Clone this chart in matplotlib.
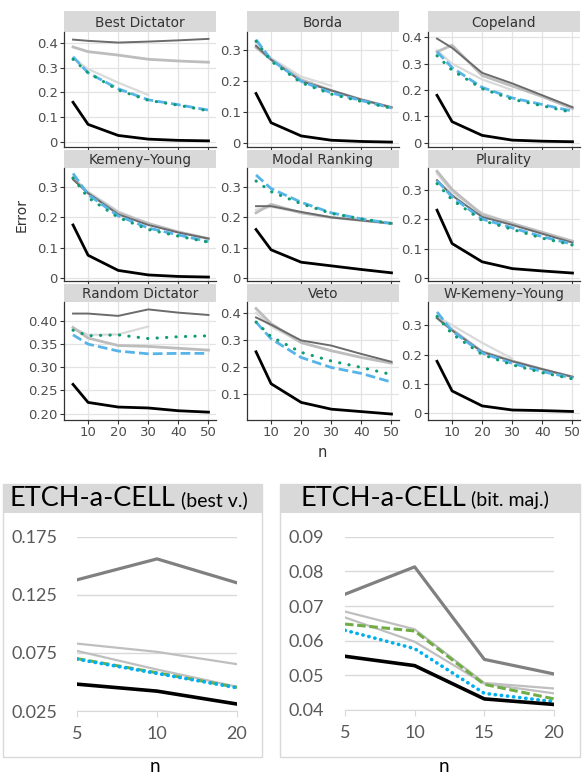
import numpy as np
import matplotlib.pyplot as plt
from matplotlib.patches import Rectangle
from matplotlib.ticker import FuncFormatter

W, H = 584, 777

# ---- top grid: error vs n for nine rules ----
n_vals = [5, 10, 20, 30, 40, 50]
n_short = [5, 10, 20, 30]

rule_names = ['Best Dictator', 'Borda', 'Copeland',
              'Kemeny\u2013Young', 'Modal Ranking', 'Plurality',
              'Random Dictator', 'Veto', 'W-Kemeny\u2013Young']

err_dark = [
    [0.415, 0.410, 0.403, 0.407, 0.412, 0.418],
    [0.315, 0.270, 0.200, 0.170, 0.140, 0.115],
    [0.395, 0.360, 0.265, 0.225, 0.180, 0.135],
    [0.325, 0.280, 0.210, 0.175, 0.150, 0.130],
    [0.237, 0.237, 0.218, 0.200, 0.190, 0.180],
    [0.332, 0.280, 0.207, 0.180, 0.150, 0.120],
    [0.416, 0.416, 0.411, 0.425, 0.418, 0.413],
    [0.383, 0.356, 0.298, 0.279, 0.248, 0.219],
    [0.324, 0.282, 0.209, 0.177, 0.150, 0.124],
]
err_light = [
    [0.385, 0.366, 0.352, 0.335, 0.328, 0.323],
    [0.310, 0.270, 0.205, 0.170, 0.140, 0.115],
    [0.345, 0.370, 0.255, 0.215, 0.175, 0.130],
    [0.330, 0.280, 0.215, 0.180, 0.152, 0.130],
    [0.215, 0.243, 0.215, 0.200, 0.190, 0.180],
    [0.362, 0.300, 0.215, 0.185, 0.155, 0.125],
    [0.386, 0.363, 0.347, 0.345, 0.341, 0.337],
    [0.416, 0.360, 0.290, 0.260, 0.235, 0.214],
    [0.325, 0.285, 0.210, 0.178, 0.150, 0.124],
]
err_lighter = [
    [0.340, 0.295, 0.240, 0.190],
    [0.320, 0.275, 0.215, 0.185],
    [0.350, 0.300, 0.240, 0.200],
    [0.330, 0.285, 0.220, 0.180],
    [0.225, 0.235, 0.215, 0.200],
    [0.355, 0.290, 0.220, 0.185],
    [0.385, 0.370, 0.371, 0.388],
    [0.400, 0.350, 0.290, 0.260],
    [0.330, 0.300, 0.240, 0.186],
]
err_blue = [
    [0.345, 0.280, 0.215, 0.170, 0.150, 0.128],
    [0.335, 0.270, 0.200, 0.162, 0.137, 0.113],
    [0.345, 0.285, 0.210, 0.170, 0.145, 0.120],
    [0.345, 0.275, 0.205, 0.165, 0.142, 0.120],
    [0.340, 0.295, 0.250, 0.215, 0.195, 0.180],
    [0.330, 0.275, 0.200, 0.170, 0.140, 0.115],
    [0.370, 0.350, 0.335, 0.329, 0.330, 0.330],
    [0.366, 0.304, 0.235, 0.198, 0.176, 0.144],
    [0.345, 0.280, 0.205, 0.170, 0.142, 0.120],
]
err_green = [
    [0.335, 0.280, 0.210, 0.168, 0.148, 0.125],
    [0.330, 0.265, 0.195, 0.158, 0.134, 0.112],
    [0.330, 0.275, 0.205, 0.165, 0.140, 0.115],
    [0.330, 0.265, 0.200, 0.160, 0.138, 0.118],
    [0.320, 0.285, 0.245, 0.213, 0.195, 0.180],
    [0.320, 0.265, 0.195, 0.165, 0.135, 0.112],
    [0.380, 0.368, 0.370, 0.362, 0.366, 0.368],
    [0.366, 0.312, 0.254, 0.222, 0.198, 0.172],
    [0.330, 0.270, 0.200, 0.165, 0.138, 0.117],
]
err_black = [
    [0.160, 0.070, 0.025, 0.010, 0.005, 0.003],
    [0.160, 0.065, 0.022, 0.008, 0.004, 0.002],
    [0.180, 0.080, 0.028, 0.010, 0.006, 0.004],
    [0.175, 0.075, 0.025, 0.010, 0.005, 0.003],
    [0.160, 0.093, 0.052, 0.040, 0.028, 0.017],
    [0.230, 0.117, 0.055, 0.032, 0.024, 0.017],
    [0.263, 0.224, 0.214, 0.212, 0.206, 0.203],
    [0.256, 0.138, 0.069, 0.044, 0.035, 0.026],
    [0.177, 0.076, 0.025, 0.011, 0.009, 0.006],
]

y_lims = [(-0.022, 0.446), (-0.014, 0.36), (-0.016, 0.42),
          (-0.01, 0.363), (-0.01, 0.363), (-0.01, 0.373),
          (0.186, 0.441), (0.004, 0.44), (-0.023, 0.379)]
y_ticks = [[0, 0.1, 0.2, 0.3, 0.4], [0, 0.1, 0.2, 0.3], [0, 0.1, 0.2, 0.3, 0.4],
           [0, 0.1, 0.2, 0.3], [0, 0.1, 0.2, 0.3], [0, 0.1, 0.2, 0.3],
           [0.20, 0.25, 0.30, 0.35, 0.40], [0.1, 0.2, 0.3, 0.4], [0, 0.1, 0.2, 0.3]]

# ---- bottom: ETCH-a-CELL ----
best_n = ['5', '10', '20']
best_dark = [0.1379, 0.1559, 0.1353]
best_light1 = [0.0830, 0.0759, 0.0653]
best_light2 = [0.0767, 0.0607, 0.0459]
best_green = [0.0701, 0.0579, 0.0453]
best_blue = [0.0696, 0.0573, 0.0450]
best_black = [0.0481, 0.0421, 0.0310]
best_yticks = [0.025, 0.075, 0.125, 0.175]

bit_n = ['5', '10', '15', '20']
bit_dark = [0.0734, 0.0813, 0.0546, 0.0504]
bit_light1 = [0.0684, 0.0633, 0.0478, 0.0462]
bit_light2 = [0.0667, 0.0597, 0.0476, 0.0448]
bit_green = [0.0648, 0.0628, 0.0474, 0.0432]
bit_blue = [0.0630, 0.0577, 0.0448, 0.0424]
bit_black = [0.0555, 0.0528, 0.0432, 0.0416]
bit_yticks = [0.04, 0.05, 0.06, 0.07, 0.08, 0.09]


def fbox(l, t, r, b):
    return [l / W, 1 - b / H, (r - l) / W, (b - t) / H]


fig = plt.figure(figsize=(W / 100, H / 100), dpi=100)

col_left = [64, 247, 428]
col_w = 152
rows = [(11, 32, 147), (150, 168, 281), (284, 302, 420)]

for i, name in enumerate(rule_names):
    r, c = divmod(i, 3)
    ht, pt, pb = rows[r]
    l = col_left[c]
    rr = l + col_w
    hax = fig.add_axes(fbox(l, ht, rr, pt))
    hax.set_facecolor('#d9d9d9')
    hax.set_xticks([])
    hax.set_yticks([])
    for s in hax.spines.values():
        s.set_visible(False)
    hax.text(0.5, 0.45, name, ha='center', va='center', fontsize=9.8, color='#333333')

    ax = fig.add_axes(fbox(l, pt, rr, pb))
    ax.plot(n_short, err_lighter[i], color='#dadada', lw=1.6)
    ax.plot(n_vals, err_light[i], color='#bdbdbd', lw=2.0)
    ax.plot(n_vals, err_dark[i], color='#6b6b6b', lw=1.4)
    ax.plot(n_vals, err_blue[i], color='#56b4e9', lw=2.0, dashes=(3.5, 1.5))
    ax.plot(n_vals, err_green[i], color='#0f9b73', lw=2.2,
            linestyle=(0, (0.1, 3)), dash_capstyle='round')
    ax.plot(n_vals, err_black[i], color='black', lw=2.0)

    ax.set_xlim(2, 52.5)
    ax.set_ylim(*y_lims[i])
    ax.set_xticks([10, 20, 30, 40, 50])
    ax.set_yticks(y_ticks[i])
    if name == 'Random Dictator':
        ax.yaxis.set_major_formatter(FuncFormatter(lambda v, _: f'{v:.2f}'))
    else:
        ax.yaxis.set_major_formatter(FuncFormatter(lambda v, _: '0' if abs(v) < 1e-9 else f'{v:g}'))
    if r < 2:
        ax.set_xticklabels([])
    ax.grid(True, color='#e3e3e3', lw=0.9)
    ax.set_axisbelow(True)
    for s in ['top', 'right']:
        ax.spines[s].set_visible(False)
    for s in ['left', 'bottom']:
        ax.spines[s].set_color('#333333')
        ax.spines[s].set_linewidth(0.9)
    ax.tick_params(direction='out', length=3, color='#333333', labelsize=9.5,
                   labelcolor='#4d4d4d', pad=1.5)

fig.text(22 / W, 1 - 215 / H, 'Error', rotation=90, ha='center', va='center',
         fontsize=10, color='#333333')
fig.text(322 / W, 1 - 453 / H, 'n', ha='center', va='center', fontsize=10.5, color='#333333')


def etch_panel(box, plot, main, sub, title_x, n_x, cats, series, ylim, yticks, fmt, ypad):
    bl, bt, br, bb = box
    fig.add_artist(Rectangle((bl / W, 1 - bb / H), (br - bl) / W, (bb - bt) / H,
                             transform=fig.transFigure, facecolor='white',
                             edgecolor='#d9d9d9', lw=1, zorder=-2))
    fig.add_artist(Rectangle((bl / W, 1 - 513 / H), (br - bl) / W, (513 - bt) / H,
                             transform=fig.transFigure, facecolor='#d9d9d9',
                             edgecolor='none', zorder=-1))
    t1 = fig.text(title_x / W, 1 - 506 / H, main, family='Lato', fontsize=19.5,
                  va='baseline', ha='left', color='black')
    fig.canvas.draw()
    ext = t1.get_window_extent(fig.canvas.get_renderer())
    fig.text((ext.x1 + 5) / W, 1 - 506 / H, sub, family='Lato', fontsize=14,
             va='baseline', ha='left', color='black')

    ax = fig.add_axes(fbox(*plot))
    ax.set_facecolor('none')
    x = np.arange(len(cats))
    dark, light1, light2, green, blue, black = series
    ax.plot(x, light1, color='#bfbfbf', lw=1.6)
    ax.plot(x, light2, color='#bfbfbf', lw=1.6)
    ax.plot(x, dark, color='#808080', lw=2.3)
    ax.plot(x, green, color='#70ad47', lw=2.2, dashes=(2.8, 1.2))
    ax.plot(x, blue, color='#00b0f0', lw=2.6, linestyle=(0, (0.1, 1.6)),
            dash_capstyle='round')
    ax.plot(x, black, color='black', lw=2.6)
    ax.set_xlim(0, len(cats) - 1)
    ax.set_ylim(*ylim)
    ax.set_xticks(x)
    ax.set_xticklabels(cats)
    ax.set_yticks(yticks)
    ax.set_yticklabels([fmt % v for v in yticks])
    ax.yaxis.grid(True, color='#d9d9d9', lw=1)
    ax.set_axisbelow(True)
    for s in ['top', 'right', 'left']:
        ax.spines[s].set_visible(False)
    ax.spines['bottom'].set_color('#d9d9d9')
    ax.tick_params(axis='x', length=4, color='#d9d9d9', pad=7, labelsize=13,
                   labelcolor='#595959')
    ax.tick_params(axis='y', length=0, pad=ypad, labelsize=13, labelcolor='#595959')
    for lab in ax.get_xticklabels() + ax.get_yticklabels():
        lab.set_family('Lato')
    fig.text(n_x / W, 1 - 766 / H, 'n', family='Lato', fontsize=13.5, ha='center',
             va='center', color='black')


etch_panel((3, 484, 262, 757), (77, 536.7, 237, 711), 'ETCH-a-CELL', '(best v.)', 10, 155,
           best_n, [best_dark, best_light1, best_light2, best_green, best_blue, best_black],
           (0.025, 0.175), best_yticks, '%.3f', 14)
etch_panel((280, 484, 580, 757), (345, 536.7, 554, 710), 'ETCH-a-CELL', '(bit. maj.)', 300, 444,
           bit_n, [bit_dark, bit_light1, bit_light2, bit_green, bit_blue, bit_black],
           (0.04, 0.09), bit_yticks, '%.2f', 15)

plt.savefig('out.png', dpi=100)
